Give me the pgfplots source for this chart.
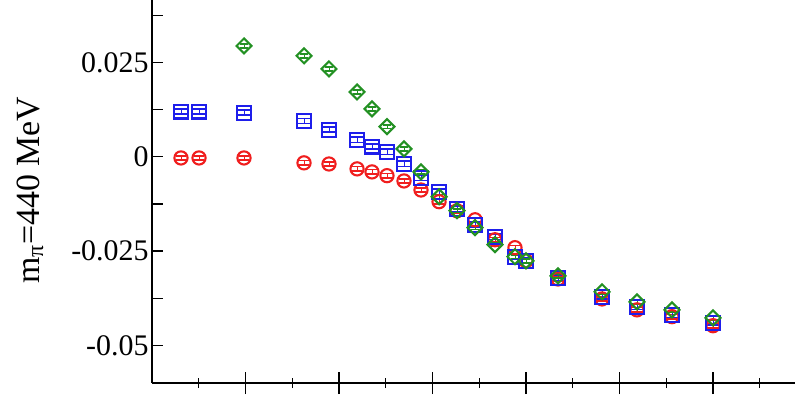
\documentclass[border=0pt]{standalone}
\usepackage{fontspec}
\setmainfont{Liberation Serif}
\usepackage{pgfplots}
\pgfplotsset{compat=1.18}
\usepackage{pgfplotstable}
\definecolor{cred}{RGB}{240,30,30}
\definecolor{cblue}{RGB}{30,30,235}
\definecolor{cgreen}{RGB}{35,145,35}
\pgfplotstableread{
x r b g
0.310 -0.0003 0.0120 nan
0.503 -0.0003 0.0120 nan
0.984 -0.0003 0.0117 0.0294
1.626 -0.0016 0.0095 0.0268
1.893 -0.0019 0.0072 0.0233
2.193 -0.0032 0.0045 0.0172
2.353 -0.0040 0.0027 0.0127
2.513 -0.0050 0.0013 0.0080
2.695 -0.0064 -0.0019 0.0021
2.877 -0.0088 -0.0056 -0.0040
3.070 -0.0119 -0.0093 -0.0106
3.262 -0.0143 -0.0138 -0.0143
3.455 -0.0167 -0.0180 -0.0188
3.668 -0.0220 -0.0212 -0.0233
3.882 -0.0241 -0.0265 -0.0265
4.000 -0.0276 -0.0276 -0.0276
4.342 -0.0324 -0.0321 -0.0316
4.813 -0.0377 -0.0371 -0.0358
5.187 -0.0406 -0.0398 -0.0385
5.561 -0.0424 -0.0419 -0.0406
6.000 -0.0448 -0.0440 -0.0427
}\data
\begin{document}
\begin{tikzpicture}
\useasboundingbox (-152bp,-22bp) rectangle (643bp,383bp);
\pgfplotsset{common/.style={
  width=643bp, height=383bp, scale only axis,
  xmin=0, xmax=6.877, ymin=-0.06, ymax=0.0416,
  scaled x ticks=false, scaled y ticks=false,
}}
% x axis with long centred ticks
\begin{axis}[common,
  axis x line=bottom, axis y line=none,
  x axis line style={-, line width=1.3bp, black},
  xtick={1,2,3,4,5,6}, xticklabels={},
  minor xtick={0.5,1.5,2.5,3.5,4.5,5.5,6.5},
  xtick align=center,
  major tick length=22bp, minor tick length=10bp,
  every tick/.style={line width=1.3bp, black},
]
\end{axis}
% data and y axis
\begin{axis}[common,
  axis y line=left, axis x line=none, clip=false,
  y axis line style={-, line width=1.3bp, black},
  ytick={-0.05,-0.025,0,0.025},
  yticklabels={-0.05,-0.025,0,0.025},
  minor ytick={-0.0375,-0.0125,0.0125,0.0375},
  ytick align=inside,
  major tick length=11bp, minor tick length=11bp,
  every tick/.style={line width=1.3bp, black},
  yticklabel style={font=\fontsize{30}{30}\selectfont},
]
\addplot[only marks, cred, mark=o, mark size=6.6bp, mark options={line width=2.1bp},
  error bars/.cd, y dir=both, y fixed=0.0006,
  error mark options={rotate=90, mark size=5.2bp, line width=1.7bp},
  error bar style={line width=0.5bp}] table[x=x,y=r]{\data};
\addplot[only marks, cblue, mark=square, mark size=6.9bp, mark options={line width=2.1bp},
  error bars/.cd, y dir=both, y fixed=0.0007,
  error mark options={rotate=90, mark size=5.6bp, line width=1.7bp},
  error bar style={line width=0.5bp}] table[x=x,y=b]{\data};
\addplot[only marks, cgreen, mark=square, mark size=5.3bp, mark options={line width=2.1bp, rotate=45},
  error bars/.cd, y dir=both, y fixed=0.0005,
  error mark options={rotate=90, mark size=3.6bp, line width=1.7bp},
  error bar style={line width=0.5bp}] table[x=x,y=g]{\data};
\node[rotate=90, anchor=center, font=\fontsize{34}{34}\selectfont]
  at (axis description cs:-0.1897,0.504) {m\textsubscript{π}=440 MeV};
\end{axis}
\end{tikzpicture}
\end{document}
